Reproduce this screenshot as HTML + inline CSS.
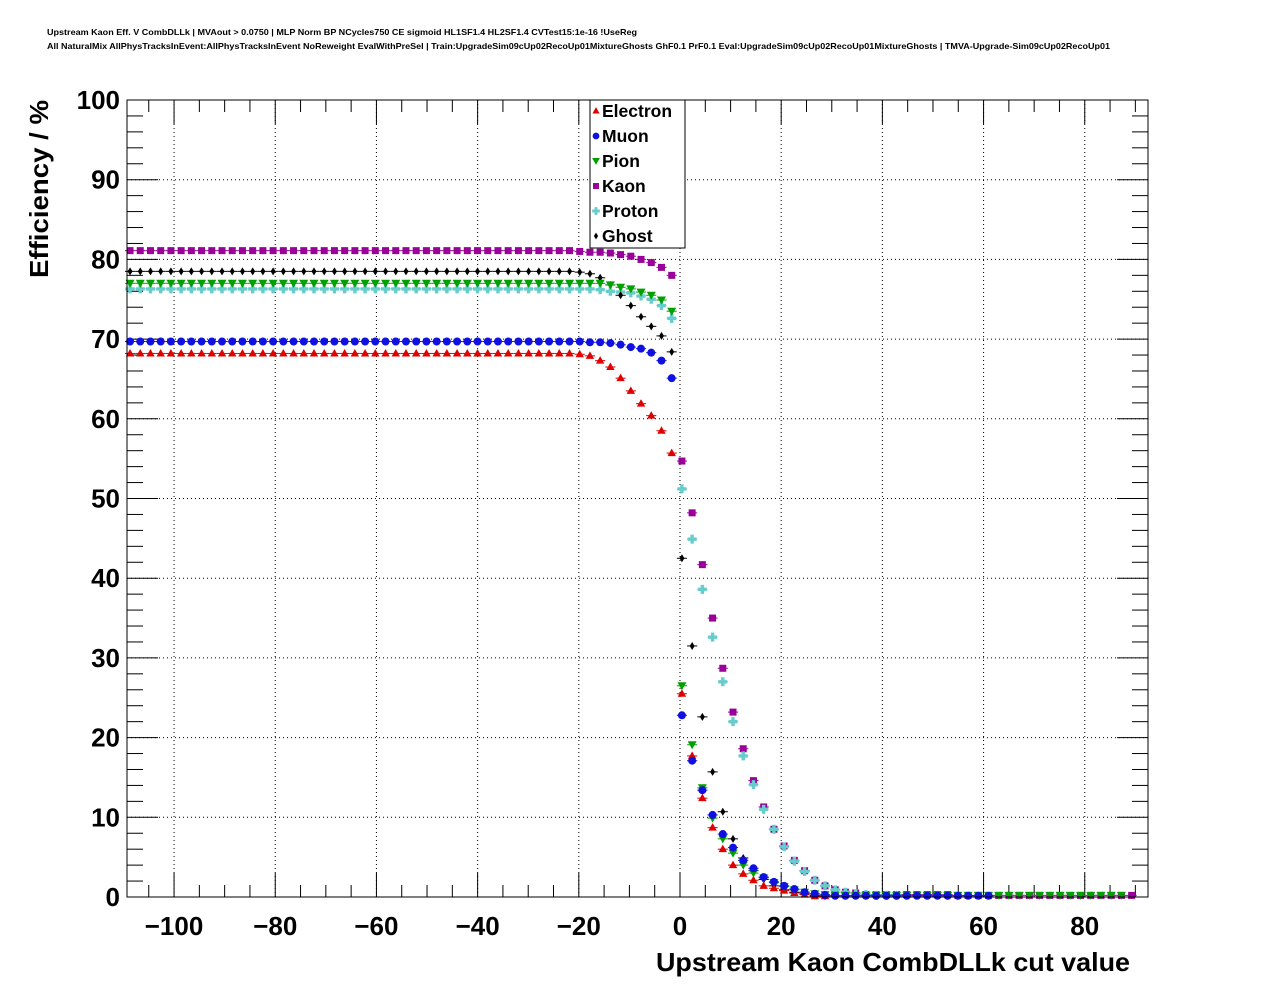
<!DOCTYPE html>
<html><head><meta charset="utf-8">
<style>
html,body{margin:0;padding:0;background:#fff;}
svg{display:block;font-family:"Liberation Sans",sans-serif;}
</style></head>
<body>
<svg id="chart" width="1276" height="996" viewBox="0 0 1276 996">
<text x="47" y="35" font-size="8.5" font-weight="bold" textLength="590" lengthAdjust="spacingAndGlyphs">Upstream Kaon Eff. V CombDLLk | MVAout &gt; 0.0750 | MLP Norm BP NCycles750 CE sigmoid HL1SF1.4 HL2SF1.4 CVTest15:1e-16 !UseReg</text>
<text x="47" y="49" font-size="8.5" font-weight="bold" textLength="1063" lengthAdjust="spacingAndGlyphs">All NaturalMix AllPhysTracksInEvent:AllPhysTracksInEvent NoReweight EvalWithPreSel | Train:UpgradeSim09cUp02RecoUp01MixtureGhosts GhF0.1 PrF0.1 Eval:UpgradeSim09cUp02RecoUp01MixtureGhosts | TMVA-Upgrade-Sim09cUp02RecoUp01</text>
<g id="grid"></g>
<g id="axes"></g>
<g id="marks"></g>
<rect x="127" y="100" width="1021" height="797" fill="none" stroke="#000" stroke-width="1"/>
<text x="1130" y="971" font-size="26" font-weight="bold" text-anchor="end" textLength="474" lengthAdjust="spacingAndGlyphs">Upstream Kaon CombDLLk cut value</text>
<text transform="translate(48,278) rotate(-90)" font-size="26" font-weight="bold" textLength="178" lengthAdjust="spacingAndGlyphs">Efficiency / %</text>
<g id="legend"></g>
</svg>
<script>
const xTicks=[-100,-80,-60,-40,-20,0,20,40,60,80];
const xTickLabels=["\u2212100","\u221280","\u221260","\u221240","\u221220","0","20","40","60","80"];
const yTicks=[0,10,20,30,40,50,60,70,80,90,100];
const seriesNames=["Electron","Muon","Pion","Kaon","Proton","Ghost"];
const plateauCount=44;
const electronPlateau=68.2, muonPlateau=69.7, pionPlateau=77.0, kaonPlateau=81.1, protonPlateau=76.3, ghostPlateau=78.5;
const electronTail=[68.1,67.9,67.3,66.5,65.1,63.5,61.9,60.4,58.5,55.7,25.5,17.7,12.4,8.7,6.0,4.0,2.9,2.1,1.4,1.1,0.8,0.5,0.3,0.1,0.1];
const muonTail=[69.7,69.6,69.6,69.5,69.3,69.0,68.8,68.3,67.3,65.1,22.8,17.1,13.4,10.3,7.9,6.2,4.6,3.6,2.5,1.9,1.4,1.0,0.6,0.4,0.25,0.15,0.15,0.15,0.15,0.15,0.15,0.15,0.15,0.15,0.15,0.15,0.15,0.15,0.15,0.15,0.15];
const pionTail=[77.0,77.0,77.0,76.8,76.5,76.3,75.9,75.5,74.9,73.5,26.5,19.1,13.7,9.9,7.3,5.5,4.0,3.0,2.4,1.8,1.3,0.9,0.6,0.4,0.3,0.2,0.2,0.2,0.2,0.2,0.2,0.2,0.2,0.2,0.2,0.2,0.2,0.2,0.2,0.2,0.2,0.2,0.2,0.2,0.2,0.2,0.2,0.2,0.2,0.2,0.2,0.2,0.2,0.2];
const kaonTail=[81.0,80.9,80.9,80.8,80.6,80.4,80.0,79.6,79.0,78.0,54.7,48.2,41.7,35.0,28.7,23.2,18.6,14.6,11.3,8.5,6.4,4.6,3.3,2.1,1.4,0.9,0.6,0.5,0.3,0.3,0.3,0.3,0.3,0.3,0.3,0.3,0.3,0.2,0.2,0.2,0.2,0.2,0.2,0.2,0.2,0.2,0.2,0.2,0.2,0.2,0.2,0.2,0.2,0.2,0.2];
const protonTail=[76.3,76.3,76.2,76.0,75.9,75.8,75.4,75.0,74.2,72.6,51.2,44.9,38.6,32.6,27.0,22.0,17.7,14.1,11.0,8.5,6.3,4.5,3.2,2.1,1.4,0.9,0.6,0.4,0.3,0.2,0.2,0.2];
const ghostTail=[78.4,78.2,77.7,76.8,75.5,74.2,72.8,71.6,70.4,68.4,42.5,31.5,22.6,15.7,10.7,7.3,4.9,3.3,2.2,1.4,0.9,0.6,0.4,0.2,0.1];
const xStart=-108.7, xStep=2.02;

const X0=127,X1=1148,Y0=897,Y1=100,XMIN=-109.3,XMAX=92.5,YMIN=0,YMAX=100;
function sx(v){return X0+(v-XMIN)/(XMAX-XMIN)*(X1-X0);}
function sy(v){return Y0-(v-YMIN)/(YMAX-YMIN)*(Y0-Y1);}
const NS="http://www.w3.org/2000/svg";
function mk(tag,attrs,parent){const e=document.createElementNS(NS,tag);for(const k in attrs)e.setAttribute(k,attrs[k]);parent.appendChild(e);return e;}
const grid=document.getElementById('grid'),axes=document.getElementById('axes'),marks=document.getElementById('marks'),legend=document.getElementById('legend');

xTicks.forEach((t,i)=>{
  const x=sx(t);
  const g=mk('line',{x1:x,x2:x,y1:Y1,y2:Y0,stroke:'#000','stroke-width':1,'stroke-dasharray':'1,3'},grid);
  
  
  const tk=mk('line',{x1:x,x2:x,y1:Y0,y2:Y0-24,stroke:'#000'},axes);
  
  
  mk('line',{x1:x,x2:x,y1:Y1,y2:Y1+24,stroke:'#000'},axes);
  const lb=mk('text',{x:x,y:935,'font-size':26,'font-weight':'bold','text-anchor':'middle'},axes);
  lb.textContent=xTickLabels[i];
  
  
});
for(let v=-105;v<=90;v+=5){if(v%20===0)continue;const x=sx(v);mk('line',{x1:x,x2:x,y1:Y0,y2:Y0-12,stroke:'#000'},axes);mk('line',{x1:x,x2:x,y1:Y1,y2:Y1+12,stroke:'#000'},axes);}
yTicks.forEach(t=>{
  const y=sy(t);
  if(t>0&&t<100){const g=mk('line',{x1:X0,x2:X1,y1:y,y2:y,stroke:'#000','stroke-width':1,'stroke-dasharray':'1,3'},grid);
  
  }
  mk('line',{x1:X0,x2:X0+31,y1:y,y2:y,stroke:'#000'},axes);
  mk('line',{x1:X1,x2:X1-31,y1:y,y2:y,stroke:'#000'},axes);
  const lb=mk('text',{x:120,y:y+9,'font-size':26,'font-weight':'bold','text-anchor':'end'},axes);
  lb.textContent=String(t);
  
  
});
for(let v=2;v<100;v+=2){if(v%10===0)continue;const y=sy(v);mk('line',{x1:X0,x2:X0+16,y1:y,y2:y,stroke:'#000'},axes);mk('line',{x1:X1,x2:X1-16,y1:y,y2:y,stroke:'#000'},axes);}

const colors=["#e00000","#1010e0","#00a000","#990099","#66cccc","#000000"];
const shapes=["tri","circ","itri","sq","cross","diam"];
const plateaus=[electronPlateau,muonPlateau,pionPlateau,kaonPlateau,protonPlateau,ghostPlateau];
const tails=[electronTail,muonTail,pionTail,kaonTail,protonTail,ghostTail];
const drawOrder=[3,4,5,0,2,1];
function marker(shape,x,y,c,parent,s){
  s=s||1;
  if(shape==='tri')return mk('path',{d:`M${x},${y-4.5*s}L${x+4.2*s},${y+3*s}L${x-4.2*s},${y+3*s}Z`,fill:c},parent);
  if(shape==='itri')return mk('path',{d:`M${x},${y+4.5*s}L${x+4.5*s},${y-3.5*s}L${x-4.5*s},${y-3.5*s}Z`,fill:c},parent);
  if(shape==='circ')return mk('circle',{cx:x,cy:y,r:4*s,fill:c},parent);
  if(shape==='sq')return mk('rect',{x:x-3.5*s,y:y-3.5*s,width:7*s,height:7*s,fill:c},parent);
  if(shape==='cross')return mk('path',{d:`M${x-1.7*s},${y-4.5*s}h${3.4*s}v${2.8*s}h${2.8*s}v${3.4*s}h${-2.8*s}v${2.8*s}h${-3.4*s}v${-2.8*s}h${-2.8*s}v${-3.4*s}h${2.8*s}Z`,fill:c},parent);
  if(shape==='diam')return mk('path',{d:`M${x},${y-4*s}L${x+2.5*s},${y}L${x},${y+4*s}L${x-2.5*s},${y}Z`,fill:c},parent);
}
drawOrder.forEach(si=>{
  const tail=tails[si];
  const g=mk('g',{},marks);
  
  
  const vals=[];
  for(let i=0;i<plateauCount;i++)vals.push(plateaus[si]);
  tail.forEach(v=>vals.push(v));
  vals.forEach((v,i)=>{
    const xv=xStart+i*xStep, x=sx(xv), y=sy(v);
    if(x>X1)return;
    mk('line',{x1:sx(xv-1),x2:sx(xv+1),y1:y,y2:y,stroke:colors[si],'stroke-width':1},g);
    const m=marker(shapes[si],x,y,colors[si],g);
    
    
  });
});
mk('rect',{x:590,y:100,width:95,height:148,fill:'#fff',stroke:'#000'},legend);
seriesNames.forEach((n,i)=>{
  const y=111+i*25;
  const g=mk('g',{},legend);
  
  
  marker(shapes[i],596,y,colors[i],g,0.85);
  const t=mk('text',{x:602,y:y+6,'font-size':17.5,'font-weight':'bold'},g);
  t.textContent=n;
});
</script>
</body></html>
